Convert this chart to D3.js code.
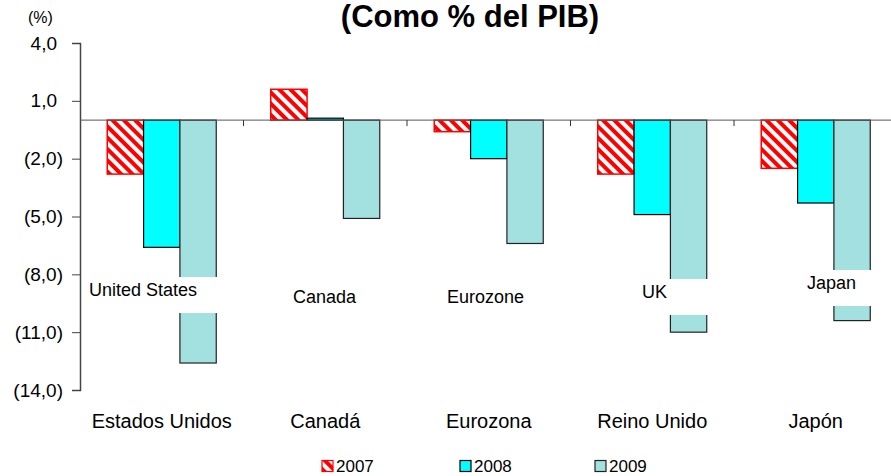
<!DOCTYPE html>
<html>
<head>
<meta charset="utf-8">
<script src="https://cdn.jsdelivr.net/npm/d3@7"></script>
<style>
  body { margin: 0; background: #fff; }
  svg { font-family: "Liberation Sans", Arial, sans-serif; display: block; }
</style>
</head>
<body>
<svg></svg>
<script>
const [width, height] = [891, 476];
const font = '"Liberation Sans", Arial, sans-serif';

// data
const categories = ['Estados Unidos', 'Canadá', 'Eurozona', 'Reino Unido', 'Japón'];
const series = ['2007', '2008', '2009'];
const v2007 = [-2.8, 1.6, -0.6, -2.8, -2.5];
const v2008 = [-6.6, 0.1, -2.0, -4.9, -4.3];
const v2009 = [-12.6, -5.1, -6.4, -11.0, -10.4];
const englishLabels = ['United States', 'Canada', 'Eurozone', 'UK', 'Japan'];
const yTicks = [4, 1, -2, -5, -8, -11, -14];

const values = [v2007, v2008, v2009];
const fills = ['url(#hatch)', '#00ffff', '#a3e0e0'];
const strokes = ['#ff0000', '#000', '#222'];

const svg = d3.select('svg').attr('width', width).attr('height', height);

const defs = svg.append('defs');
const pat = defs.append('pattern').attr('id', 'hatch')
  .attr('patternUnits', 'userSpaceOnUse')
  .attr('width', 8).attr('height', 8)
  .attr('patternTransform', 'rotate(-45)');
pat.append('rect').attr('width', 8).attr('height', 8).attr('fill', '#fff');
pat.append('rect').attr('width', 4).attr('height', 8).attr('fill', '#ff0000');

const x = d3.scaleBand().domain(categories).range([80, 897.5]);
const bw = x.bandwidth();
const xs = d3.scaleBand().domain(series).range([bw / 6, bw * 5 / 6]);
const y = d3.scaleLinear().domain([-14, 4]).range([390, 43]);

const fmt = v => {
  const s = d3.format('.1f')(Math.abs(v)).replace('.', ',');
  return v < 0 ? `(${s})` : s;
};

// title
svg.append('text').attr('x', 470).attr('y', 27).attr('text-anchor', 'middle')
  .style('font-size', '31px').style('font-weight', 'bold').text('(Como % del PIB)');
svg.append('text').attr('x', 28).attr('y', 23).style('font-size', '16px').text('(%)');

// bars
const groups = svg.append('g').selectAll('g').data(categories).join('g')
  .attr('transform', d => `translate(${x(d)},0)`);
series.forEach((s, si) => {
  groups.append('rect')
    .attr('x', xs(s))
    .attr('width', xs.bandwidth())
    .attr('y', (d, i) => y(Math.max(0, values[si][i])))
    .attr('height', (d, i) => Math.abs(y(values[si][i]) - y(0)))
    .attr('fill', fills[si])
    .attr('stroke', strokes[si])
    .attr('stroke-width', si === 0 ? 1.5 : 1.2);
});

// y axis
const yAxis = svg.append('g').attr('transform', 'translate(80,0)')
  .call(d3.axisLeft(y).tickValues(yTicks).tickFormat(fmt).tickSize(8).tickPadding(9));
yAxis.attr('font-family', font);
yAxis.select('.domain').attr('stroke', '#444').attr('stroke-width', 1.5);
yAxis.selectAll('.tick line').attr('stroke', '#444');
yAxis.selectAll('.tick text').style('font-size', '19px').attr('fill', '#000')
  .attr('dx', d => d >= 0 ? -6 : 0);

// zero line with category ticks
const xAxis = svg.append('g').attr('transform', `translate(0,${y(0)})`)
  .call(d3.axisBottom(x).tickValues(categories.slice(1)).tickFormat('')
    .tickSize(6).tickSizeOuter(0).offset(0));
xAxis.selectAll('.tick').attr('transform', d => `translate(${x(d)},0)`);
xAxis.select('.domain').attr('stroke', '#555').attr('stroke-width', 1);
xAxis.selectAll('.tick line').attr('stroke', '#333');

// category labels
svg.append('g').selectAll('text').data(categories).join('text')
  .attr('x', d => x(d) + bw / 2).attr('y', 428)
  .attr('text-anchor', 'middle').style('font-size', '20px').text(d => d);

// english labels with white boxes
const labelPos = [[89, 277], [293, 284], [447, 284], [642, 279], [807, 270]];
const lab = svg.append('g').selectAll('g').data(englishLabels).join('g')
  .attr('transform', (d, i) => `translate(${labelPos[i][0]},${labelPos[i][1]})`);
lab.append('rect').attr('x', -6).attr('y', 0).attr('width', 140).attr('height', 36).attr('fill', '#fff');
lab.append('text').attr('x', 0).attr('y', 19).style('font-size', '18px').text(d => d);

// legend
const legX = [322, 460, 595];
const leg = svg.append('g').selectAll('g').data(series).join('g')
  .attr('transform', (d, i) => `translate(${legX[i]},460.5)`);
leg.append('rect').attr('width', 11).attr('height', 11)
  .attr('fill', (d, i) => fills[i]).attr('stroke', (d, i) => strokes[i]).attr('stroke-width', 1.2);
leg.append('text').attr('x', 14).attr('y', 11.5).style('font-size', '17px').text(d => d);
</script>
</body>
</html>
